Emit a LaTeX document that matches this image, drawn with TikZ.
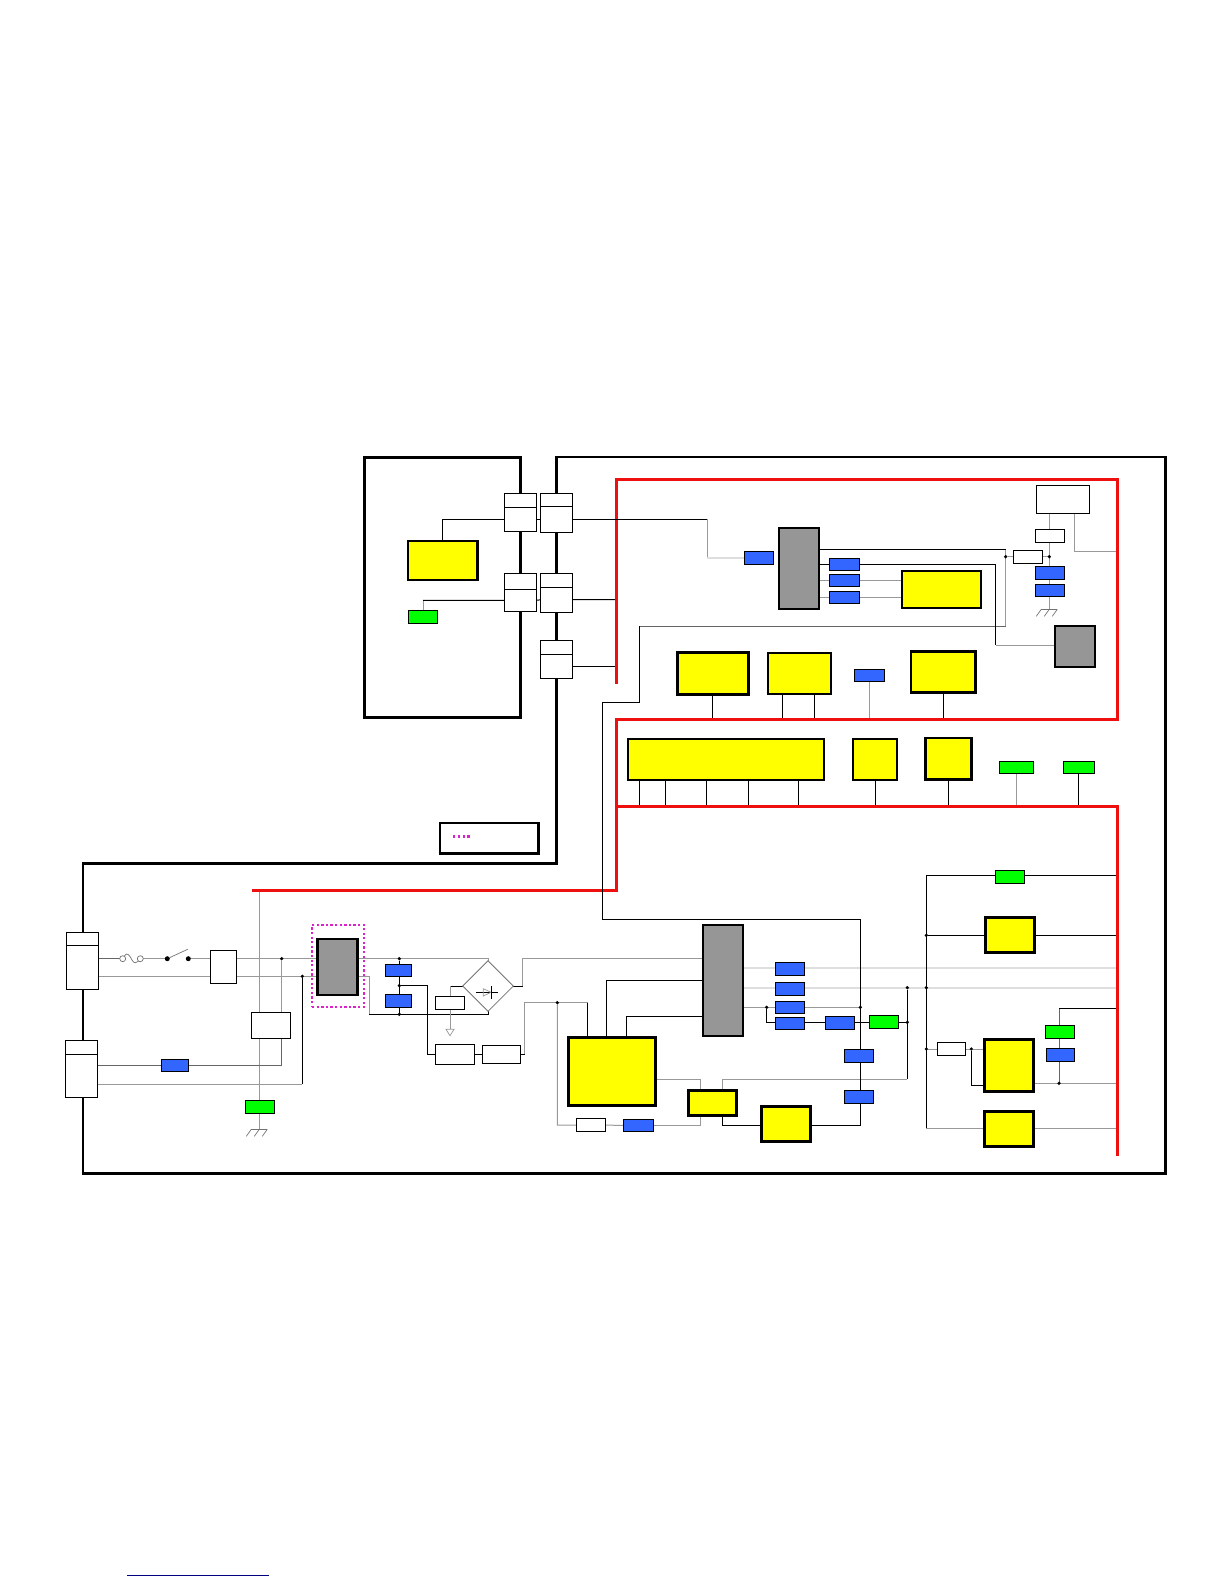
\documentclass[tikz,border=0pt]{standalone}
\usepackage{xcolor}
\usetikzlibrary{positioning, calc, shapes.geometric, backgrounds}
\definecolor{partblue}{HTML}{3366FF}
\definecolor{partgreen}{HTML}{00FF00}
\definecolor{partyellow}{HTML}{FFFF00}
\definecolor{partgray}{HTML}{969696}
\definecolor{railred}{HTML}{EE0F0F}
\definecolor{shieldpink}{HTML}{DD22CC}
\definecolor{linknavy}{HTML}{000080}

\tikzset{
  every node/.style={inner sep=0pt, outer sep=0pt},
  wire/.style={black, line width=1pt},
  dwire/.style={black!60, line width=1pt},
  gwire/.style={black!40, line width=1pt},
  lwire/.style={black!13, line width=1.8pt},
  rail/.style={railred, line width=2.7pt},
  frame/.style={black, line width=2.9pt},
  bluebox/.style={draw, line width=0.9pt, fill=partblue, minimum width=29.4pt, minimum height=13.4pt},
  greenbox/.style={draw, line width=0.9pt, fill=partgreen, minimum width=29.4pt, minimum height=13.4pt},
  whitebox/.style={draw, line width=0.9pt, fill=white, minimum width=29.4pt, minimum height=13.4pt},
  chip/.style={draw, line width=3pt, fill=partyellow},
  grayic/.style={draw, line width=2.1pt, fill=partgray, minimum width=40.6pt},
  plughead/.style={draw, line width=0.9pt, fill=white, minimum width=32.4pt},
  plugbody/.style={draw, line width=0.9pt, fill=white, minimum width=32.4pt, below=0pt of #1},
  jdot/.style={circle, fill=black, minimum size=3.6pt},
  earth/.pic={
    \draw[black!55, line width=0.7pt] (-8,0) -- (8,0);
    \foreach \gx in {-8,0,8}
      \draw[black!55, line width=0.7pt] (\gx,0) -- ++(-5,7);
  }
}

\begin{document}
\begin{tikzpicture}[x=1pt, y=-1pt]
  \useasboundingbox (0,0) rectangle (1224,1584);

  % plugs between the boards
  \node (connAh) [plughead, minimum height=14pt] at (520.5,500.3) {};
  \node (connA) [plugbody=connAh, minimum height=24pt] {};
  \node (connBh) [plughead, minimum height=13pt] at (556.5,499.8) {};
  \node (connB) [plugbody=connBh, minimum height=26pt] {};
  \node (connCh) [plughead, minimum height=16pt] at (520.5,581.3) {};
  \node (connC) [plugbody=connCh, minimum height=22pt] {};
  \node (connDh) [plughead, minimum height=13.7pt] at (556.5,580.2) {};
  \node (connD) [plugbody=connDh, minimum height=25.3pt] {};
  \node (connEh) [plughead, minimum height=14pt] at (556.5,647.3) {};
  \node (connE) [plugbody=connEh, minimum height=24.4pt] {};
  \node (connFh) [plughead, minimum height=13pt] at (82.5,938.8) {};
  \node (connF) [plugbody=connFh, minimum height=44pt] {};
  \node (connGh) [plughead, minimum height=14pt] at (81.5,1047.3) {};
  \node (connG) [plugbody=connGh, minimum height=43.4pt] {};

  % yellow parts
  \node (chipA) [chip, line width=2.5pt, minimum width=69.3pt, minimum height=39pt] at (442.7,560.5) {};
  \node (chipB) [chip, line width=2pt, minimum width=79.6pt, minimum height=37.6pt] at (941.5,589.5) {};
  \node (chipC) [chip, line width=2.5pt, minimum width=71pt, minimum height=41.6pt] at (712.8,673.5) {};
  \node (chipD) [chip, line width=2.3pt, minimum width=63.6pt, minimum height=41.6pt] at (799.5,673.5) {};
  \node (chipE) [chip, line width=2.6pt, minimum width=64.3pt, minimum height=40.6pt] at (943.2,672) {};
  \node (chipF) [chip, line width=2.2pt, minimum width=196pt, minimum height=41pt] at (726,759.5) {};
  \node (chipG) [chip, line width=2.2pt, minimum width=44.3pt, minimum height=41pt] at (875.2,759.5) {};
  \node (chipH) [chip, line width=2.6pt, minimum width=45.6pt, minimum height=41.3pt] at (948.5,758.7) {};
  \node (chipJ) [chip, minimum width=87.4pt, minimum height=68.7pt] at (612,1071.4) {};
  \node (chipK) [chip, minimum width=48.4pt, minimum height=25pt] at (712.5,1102.5) {};
  \node (chipL) [chip, minimum width=49pt, minimum height=35pt] at (786.2,1124.2) {};
  \node (chipM) [chip, minimum width=49.4pt, minimum height=35.4pt] at (1010,935) {};
  \node (chipN) [chip, minimum width=49.4pt, minimum height=52.4pt] at (1009,1065.5) {};
  \node (chipP) [chip, minimum width=49.4pt, minimum height=35.4pt] at (1009,1129) {};

  % gray modules
  \node (icA) [grayic, minimum height=81.6pt] at (799,568.5) {};
  \node (icB) [grayic, minimum height=41.6pt] at (1075,646.5) {};
  \node (icC) [grayic, line width=2.5pt, minimum width=40pt, minimum height=56pt] at (337.3,967) {};
  \node (icD) [grayic, minimum height=111pt] at (723,980.5) {};

  % blue parts
  \node (blueA) [bluebox] at (759,558) {};
  \node (blueB) [bluebox, minimum height=12.4pt] at (844.5,564.5) {};
  \node (blueC) [bluebox, minimum height=12pt] at (844.5,580.3) {};
  \node (blueD) [bluebox, minimum height=12pt] at (844.5,597.3) {};
  \node (blueE) [bluebox] at (1050,573) {};
  \node (blueF) [bluebox, minimum height=12.4pt] at (1050,590.5) {};
  \node (blueG) [bluebox, minimum width=30.4pt, minimum height=12.4pt] at (869.5,675.5) {};
  \node (blueH) [bluebox, minimum width=27.4pt, minimum height=12.4pt] at (175,1065.5) {};
  \node (blueJ) [bluebox, minimum width=26.4pt, minimum height=12.4pt] at (398.5,970.5) {};
  \node (blueK) [bluebox, minimum width=26.4pt] at (398.5,1001) {};
  \node (blueL) [bluebox, minimum width=30.4pt, minimum height=12.4pt] at (638.5,1125.5) {};
  \node (blueM) [bluebox] at (790,969) {};
  \node (blueN) [bluebox] at (790,989) {};
  \node (blueP) [bluebox, minimum height=12.4pt] at (790,1007.5) {};
  \node (blueQ) [bluebox, minimum height=12.4pt] at (790,1023.5) {};
  \node (blueR) [bluebox] at (840,1023) {};
  \node (blueS) [bluebox] at (859,1056) {};
  \node (blueT) [bluebox] at (859,1097) {};
  \node (blueU) [bluebox, minimum width=28.4pt, minimum height=13pt] at (1060.5,1054.8) {};

  % green parts
  \node (greenA) [greenbox, minimum height=13pt] at (423,617) {};
  \node (greenB) [greenbox, minimum width=34.4pt, minimum height=12pt] at (1016.5,767.3) {};
  \node (greenC) [greenbox, minimum width=31pt, minimum height=12pt] at (1078.8,767.3) {};
  \node (greenD) [greenbox] at (260,1107) {};
  \node (greenE) [greenbox] at (884,1022) {};
  \node (greenF) [greenbox] at (1010,877) {};
  \node (greenG) [greenbox, minimum height=13pt] at (1060,1031.8) {};

  % white parts
  \node (topA) [whitebox, minimum width=53.4pt, minimum height=28pt] at (1063,499.3) {};
  \node (resA) [whitebox] at (1028,556.7) {};
  \node (resB) [whitebox] at (1050,536) {};
  \node (resC) [whitebox] at (591,1125) {};
  \node (resD) [whitebox, minimum height=13pt] at (450,1002.8) {};
  \node (resE) [whitebox, minimum width=28.4pt] at (951.5,1049) {};
  \node (boxA) [whitebox, minimum width=26.4pt, minimum height=33pt] at (223.5,966.8) {};
  \node (boxB) [whitebox, minimum width=39.4pt, minimum height=26pt] at (271,1025.3) {};
  \node (wrapA) [whitebox, minimum width=39.4pt, minimum height=19.4pt] at (455,1054.3) {};
  \node (wrapB) [whitebox, minimum width=38.4pt, minimum height=18.4pt] at (501.5,1054.3) {};
  \node (legend) [draw, line width=2.4pt, minimum width=98.8pt, minimum height=30.6pt] at (489.2,838.2) {};

  \node (shield) [draw=shieldpink, line width=2.2pt, dash pattern=on 2.3pt off 2.3pt, minimum width=52.3pt, minimum height=81.7pt] at (338.2,965.9) {};
  \node (bridge) [diamond, draw=black!55, line width=0.8pt, fill=white, aspect=1, minimum size=50.6pt] at (488,986) {};

  % fuse and switch
  \node (fuseA) [circle, draw=black!55, line width=0.7pt, fill=white, minimum size=6pt] at (122.7,958.7) {};
  \node (fuseB) [circle, draw=black!55, line width=0.7pt, fill=white, minimum size=6pt] at (140.3,958.7) {};
  \node (swA) [jdot, minimum size=5pt] at (167.3,958.7) {};
  \node (swB) [jdot, minimum size=5pt] at (188.3,958.7) {};

  % junctions
  \node (dotA) [jdot] at (281.7,958.7) {};
  \node (dotB) [jdot] at (302.3,976.3) {};
  \node (dotC) [jdot] at (399.3,958.7) {};
  \node (dotD) [jdot] at (399.3,985.7) {};
  \node (dotE) [jdot] at (399.3,1014.3) {};
  \node (dotF) [jdot] at (557.3,1002.7) {};
  \node (dotG) [jdot] at (766.7,1007.3) {};
  \node (dotH) [jdot] at (860.3,1007.3) {};
  \node (dotJ) [jdot] at (907.3,987.7) {};
  \node (dotK) [jdot] at (907.3,1022.3) {};
  \node (dotL) [jdot] at (926.3,935.3) {};
  \node (dotM) [jdot] at (926.3,987.7) {};
  \node (dotN) [jdot] at (926.3,1049) {};
  \node (dotP) [jdot] at (971.3,1049) {};
  \node (dotQ) [jdot] at (1059,1083.3) {};
  \node (dotR) [jdot] at (1005.7,556.7) {};
  \node (dotS) [jdot] at (1049.3,556.7) {};

  % bends and rail levels
  \coordinate (bendA) at (707,519.3);
  \coordinate (redL) at (616.7,479.3);
  \coordinate (redT) at (1117.7,719.3);
  \coordinate (redM) at (616.7,806.3);
  \coordinate (redS) at (252.3,890.3);
  \coordinate (tapA) at (602.3,702.3);
  \coordinate (tapB) at (639.3,626.3);
  \coordinate (tapC) at (1005.7,549.3);
  \coordinate (tapD) at (860.3,919.3);
  \coordinate (tapE) at (1074.3,551.3);
  \coordinate (tapF) at (995.7,645.3);
  \coordinate (tapG) at (369.3,1014.3);
  \coordinate (tapH) at (427.7,1054.3);
  \coordinate (tapJ) at (524.7,1002.7);
  \coordinate (tapK) at (587.7,1002.7);
  \coordinate (tapL) at (700.3,1079.3);
  \coordinate (tapP) at (522.7,958.7);
  \coordinate (tapQ) at (606.7,980.3);
  \coordinate (tapR) at (626.7,1016.3);
  \coordinate (tapS) at (907.3,1079.3);
  \coordinate (tapT) at (722.3,1125);
  \coordinate (tapU) at (926.3,875.3);
  \coordinate (tapV) at (926.3,1128.3);
  \coordinate (tapW) at (971.3,1085.3);
  \coordinate (tapY) at (1059,1008.7);
  \coordinate (tapZ) at (259.3,890.3);
  \coordinate (bladeA) at (187.7,949.3);
  \coordinate (railA) at (0,958.7);
  \coordinate (railB) at (0,976.3);
  \coordinate (railC) at (0,968);
  \coordinate (railD) at (0,987.7);
  \coordinate (railH) at (0,1084.3);
  \coordinate (earthA) at (1049.3,609.3);
  \coordinate (earthB) at (259.3,1129.3);
  \coordinate (sinkA) at (450,1029.3);

  \begin{scope}[on background layer]
    % boards
    \draw[frame, line width=3pt] (364.7,457.3) rectangle (520.7,717.3);
    \draw[frame] (1165.4,456) -- (1165.4,1173.2) -- (83,1173.2) -- (83,863.3) -- (556.7,863.3) -- (556.7,456);
    \draw[frame, line width=2pt] (555.3,456.9) -- (1166.8,456.9);

    % upper board
    \draw[wire] (chipA.north) |- (connA);
    \draw[gwire] (connB -| bendA) -- (bendA |- blueA);
    \draw[lwire] (bendA |- blueA) -- (blueA);
    \draw[gwire] (greenA) -- (greenA |- connC);
    \draw[wire] (greenA |- connC) -- (connC) -- (connD) -- (connD -| redL);
    \draw[wire] (connE) -- (connE -| redL);

    \draw[dwire] (tapB) -- (tapB -| tapC);
    \draw[gwire] (tapB -| tapC) -- (tapC);
    \draw[wire] (tapC) -- (icA |- tapC);
    \draw[gwire] (dotR) -- (resA) -- (dotS);
    \draw[gwire] (topA.south -| dotS) -- (earthA);
    \draw[gwire] (topA.south -| tapE) -- (tapE) -- (tapE -| redT);
    \draw[wire] (icA |- blueB) -| (tapF);
    \draw[gwire] (tapF) -- (tapF -| icB);
    \draw[gwire] (icA |- blueC) -- (chipB |- blueC);
    \draw[gwire] (icA |- blueD) -- (chipB |- blueD);

    % stems down to the rails
    \draw[wire] (chipC.south) -- (chipC.south |- redT);
    \foreach \sx in {-17.2,14.8}
      \draw[wire] ([xshift=\sx pt]chipD.south) -- ([xshift=\sx pt]chipD.south |- redT);
    \draw[gwire] (blueG) -- (blueG |- redT);
    \draw[wire] (chipE.south) -- (chipE.south |- redT);
    \foreach \sx in {-86.7,-60.7,-19.7,22.3,72.3}
      \draw[wire] ([xshift=\sx pt]chipF.south) -- ([xshift=\sx pt]chipF.south |- redM);
    \draw[wire] (chipG.south) -- (chipG.south |- redM);
    \draw[wire] (chipH.south) -- (chipH.south |- redM);
    \draw[gwire] (greenB) -- (greenB |- redM);
    \draw[wire] (greenC) -- (greenC |- redM);

    % mains side
    \draw[dwire] (connF |- railA) -- (fuseA);
    \draw[gwire] (fuseB) -- (swA);
    \draw[gwire] (swB) -- (boxA |- swB);
    \draw[gwire] (connF |- railB) -- (dotB) -- (icC |- dotB);
    \draw[gwire] (boxA |- railA) -- (icC |- railA);
    \draw[gwire] (tapZ) -- (earthB);
    \draw[gwire] (dotA) -- (dotA |- boxB);
    \draw[dwire] (dotA |- boxB) -- (dotA |- blueH) -- (connG |- blueH);
    \draw[gwire] (connG |- railH) -- (railH -| dotB);
    \draw[wire] (railH -| dotB) -- (dotB);
    \draw[gwire] (icC |- railA) -- (bridge.north |- railA) -- (bridge.north);
    \draw[gwire] (icC |- railB) -| (tapG);
    \draw[wire] (tapG) -- (tapG -| bridge.south) -- (bridge.south);
    \draw[wire] (dotC) -- (dotE);
    \draw[wire] (dotD) -| (tapH) -- (wrapA);
    \draw[wire] (wrapA) -- (wrapB) -- (wrapB -| tapJ);
    \draw[gwire] (wrapB -| tapJ) -- (tapJ) -- (tapK);
    \draw[wire] (tapK) -- (tapK |- chipJ);
    \draw[gwire] (dotF) |- (resC) -- (blueL);
    \draw[gwire] (chipJ |- tapL) -- (tapL) -- (tapL |- blueL) -- (blueL);
    \draw[wire] (bridge.west) -- (bridge.west -| resD);
    \draw[gwire] (bridge.west -| resD) -- (sinkA);
    \draw[wire] (bridge.east) -- (bridge.east -| tapP);
    \draw[gwire] (bridge.east -| tapP) -- (tapP) -- (icD |- tapP);
    \draw[wire] (tapQ |- chipJ) -- (tapQ) -- (icD |- tapQ);
    \draw[wire] (tapR |- chipJ) -- (tapR) -- (icD |- tapR);

    % outputs
    \draw[lwire] (icD |- railC) -- (railC -| redT);
    \draw[lwire] (icD |- railD) -- (railD -| redT);
    \draw[gwire] (icD |- dotG) -- (dotH);
    \draw[wire] (dotG) |- (dotK);
    \draw[wire] (dotJ) -- (tapS);
    \draw[gwire] (tapS) -| (tapT |- chipK);
    \draw[wire] (tapT |- chipK) -- (tapT) -- (tapT -| tapD) -- (tapD);
    \draw[wire] (tapU -| redT) -- (tapU) -- (tapV);
    \draw[gwire] (tapV) -- (tapV -| redT);
    \draw[wire] (dotL) -- (dotL -| redT);
    \draw[gwire] (dotN) -- (dotP) -- (chipN |- dotP);
    \draw[wire] (dotP) -- (tapW) -- (tapW -| chipN);
    \draw[gwire] (chipN |- dotQ) -- (dotQ -| redT);
    \draw[dwire] (dotQ) -- (tapY);
    \draw[wire] (tapY) -- (tapY -| redT);

    % red rails, with the two crossing wires on top
    \draw[rail] (616.7,683.7) -- (redL) -- (redL -| redT) -- (redT) -- (redT -| redL) -- (redM) -- (redM -| redT) -- (1117.7,1155.7);
    \draw[rail] (redS) -- (redS -| redM) -- (redM);
    \draw[wire] (connA) -- (connB) -- (connB -| bendA);
    \draw[wire] (tapD) -- (tapD -| tapA) -- (tapA) -| (tapB);
  \end{scope}

  % bridge diode
  \draw[black, line width=0.7pt] (476,992.3) -- (498.3,992.3);
  \draw[black!40, line width=0.7pt] (483.3,988.7) -- (483.3,996) -- (491,992.3) -- cycle;
  \draw[black, line width=0.8pt] (491.3,986) -- (491.3,998.7);

  % fuse curve and switch blade
  \draw[black!55, line width=0.7pt] (fuseA) .. controls (127,951) and (130,956) .. (132,960) .. controls (134,964) and (137,963) .. (fuseB);
  \draw[black!55, line width=0.7pt] (swA) -- (bladeA);

  \draw[black!40, line width=0.7pt, fill=white] (sinkA) ++(-4,0) -- ++(8,0) -- ++(-4,6.4) -- cycle;
  \pic at (earthA) {earth};
  \pic at (earthB) {earth};

  \draw[shieldpink, line width=2.6pt, dash pattern=on 2.4pt off 2.4pt] (453,836.3) -- (472,836.3);
  \draw[linknavy, line width=1pt] (127,1575.3) -- (269,1575.3);
\end{tikzpicture}
\end{document}
